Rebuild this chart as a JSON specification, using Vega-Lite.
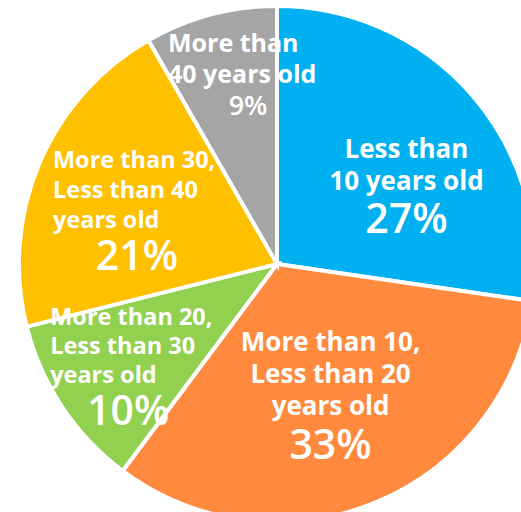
{
  "$schema": "https://vega.github.io/schema/vega-lite/v6.json",
  "autosize": "none",
  "width": 488,
  "height": 496,
  "padding": {"left": 33, "top": 16, "right": 0, "bottom": 0},
  "background": "white",
  "view": {"stroke": null},
  "data": {
    "values": [
      {"group": "Less than 10 years old", "share": 27.3, "order": 1, "label": "Less than\n10 years old", "pct": "27%"},
      {"group": "More than 10, Less than 20 years old", "share": 32.9, "order": 2, "label": "More than 10,\nLess than 20\nyears old", "pct": "33%"},
      {"group": "More than 20, Less than 30 years old", "share": 10.9, "order": 3, "label": "More than 20,\nLess than 30\nyears old", "pct": "10%"},
      {"group": "More than 30, Less than 40 years old", "share": 20.6, "order": 4, "label": "More than 30,\nLess than 40\nyears old", "pct": "21%"},
      {"group": "More than 40 years old", "share": 8.3, "order": 5, "label": "More than\n40 years old", "pct": "9%"}
    ]
  },
  "layer": [
    {
      "mark": {"type": "arc", "outerRadius": 258, "stroke": "white", "strokeWidth": 4},
      "encoding": {
        "theta": {"field": "share", "type": "quantitative", "stack": true, "scale": {"domain": [0, 100]}},
        "order": {"field": "order", "type": "quantitative", "sort": "ascending"},
        "color": {
          "field": "group", "type": "nominal", "legend": null,
          "scale": {
            "domain": ["Less than 10 years old", "More than 10, Less than 20 years old", "More than 20, Less than 30 years old", "More than 30, Less than 40 years old", "More than 40 years old"],
            "range": ["#00B0F0", "#FF8A3D", "#92D050", "#FFC000", "#A5A5A5"]
          }
        }
      }
    },
    {
      "transform": [
        {"stack": "share", "groupby": [], "sort": [{"field": "order", "order": "ascending"}], "as": ["s0", "s1"]},
        {"calculate": "(datum.s0 + datum.s1) / 2", "as": "mid"},
        {"filter": "datum.order == 1"}
      ],
      "mark": {"type": "text", "radius": 150, "dx": 16, "dy": -16, "align": "center", "baseline": "middle", "lineBreak": "\n", "lineHeight": 32, "fontSize": 26, "fontWeight": "bold", "font": "Open Sans", "color": "white"},
      "encoding": {"theta": {"field": "mid", "type": "quantitative", "stack": null}, "text": {"field": "label"}}
    },
    {
      "transform": [
        {"stack": "share", "groupby": [], "sort": [{"field": "order", "order": "ascending"}], "as": ["s0", "s1"]},
        {"calculate": "(datum.s0 + datum.s1) / 2", "as": "mid"},
        {"filter": "datum.order == 1"}
      ],
      "mark": {"type": "text", "radius": 150, "dx": 16, "dy": 55, "align": "center", "baseline": "middle", "fontSize": 41, "fontWeight": 600, "font": "Open Sans", "color": "white"},
      "encoding": {"theta": {"field": "mid", "type": "quantitative", "stack": null}, "text": {"field": "pct"}}
    },
    {
      "transform": [
        {"stack": "share", "groupby": [], "sort": [{"field": "order", "order": "ascending"}], "as": ["s0", "s1"]},
        {"calculate": "(datum.s0 + datum.s1) / 2", "as": "mid"},
        {"filter": "datum.order == 2"}
      ],
      "mark": {"type": "text", "radius": 140, "dx": 0, "dy": -50, "align": "center", "baseline": "middle", "lineBreak": "\n", "lineHeight": 32, "fontSize": 26, "fontWeight": "bold", "font": "Open Sans", "color": "white"},
      "encoding": {"theta": {"field": "mid", "type": "quantitative", "stack": null}, "text": {"field": "label"}}
    },
    {
      "transform": [
        {"stack": "share", "groupby": [], "sort": [{"field": "order", "order": "ascending"}], "as": ["s0", "s1"]},
        {"calculate": "(datum.s0 + datum.s1) / 2", "as": "mid"},
        {"filter": "datum.order == 2"}
      ],
      "mark": {"type": "text", "radius": 140, "dx": 0, "dy": 54, "align": "center", "baseline": "middle", "fontSize": 41, "fontWeight": 600, "font": "Open Sans", "color": "white"},
      "encoding": {"theta": {"field": "mid", "type": "quantitative", "stack": null}, "text": {"field": "pct"}}
    },
    {
      "transform": [
        {"stack": "share", "groupby": [], "sort": [{"field": "order", "order": "ascending"}], "as": ["s0", "s1"]},
        {"calculate": "(datum.s0 + datum.s1) / 2", "as": "mid"},
        {"filter": "datum.order == 3"}
      ],
      "mark": {"type": "text", "radius": 180, "dx": -77, "dy": -46, "align": "left", "baseline": "middle", "lineBreak": "\n", "lineHeight": 29, "fontSize": 23.5, "fontWeight": "bold", "font": "Open Sans", "color": "white"},
      "encoding": {"theta": {"field": "mid", "type": "quantitative", "stack": null}, "text": {"field": "label"}}
    },
    {
      "transform": [
        {"stack": "share", "groupby": [], "sort": [{"field": "order", "order": "ascending"}], "as": ["s0", "s1"]},
        {"calculate": "(datum.s0 + datum.s1) / 2", "as": "mid"},
        {"filter": "datum.order == 3"}
      ],
      "mark": {"type": "text", "radius": 180, "dx": 1, "dy": 49, "align": "center", "baseline": "middle", "fontSize": 41, "fontWeight": 600, "font": "Open Sans", "color": "white"},
      "encoding": {"theta": {"field": "mid", "type": "quantitative", "stack": null}, "text": {"field": "pct"}}
    },
    {
      "transform": [
        {"stack": "share", "groupby": [], "sort": [{"field": "order", "order": "ascending"}], "as": ["s0", "s1"]},
        {"calculate": "(datum.s0 + datum.s1) / 2", "as": "mid"},
        {"filter": "datum.order == 4"}
      ],
      "mark": {"type": "text", "radius": 150, "dx": -86, "dy": -44, "align": "left", "baseline": "middle", "lineBreak": "\n", "lineHeight": 30, "fontSize": 23.5, "fontWeight": "bold", "font": "Open Sans", "color": "white"},
      "encoding": {"theta": {"field": "mid", "type": "quantitative", "stack": null}, "text": {"field": "label"}}
    },
    {
      "transform": [
        {"stack": "share", "groupby": [], "sort": [{"field": "order", "order": "ascending"}], "as": ["s0", "s1"]},
        {"calculate": "(datum.s0 + datum.s1) / 2", "as": "mid"},
        {"filter": "datum.order == 4"}
      ],
      "mark": {"type": "text", "radius": 150, "dx": -2, "dy": 53, "align": "center", "baseline": "middle", "fontSize": 41, "fontWeight": 600, "font": "Open Sans", "color": "white"},
      "encoding": {"theta": {"field": "mid", "type": "quantitative", "stack": null}, "text": {"field": "pct"}}
    },
    {
      "transform": [
        {"stack": "share", "groupby": [], "sort": [{"field": "order", "order": "ascending"}], "as": ["s0", "s1"]},
        {"calculate": "(datum.s0 + datum.s1) / 2", "as": "mid"},
        {"filter": "datum.order == 5"}
      ],
      "mark": {"type": "text", "radius": 190, "dx": -60, "dy": -36, "align": "left", "baseline": "middle", "lineBreak": "\n", "lineHeight": 31, "fontSize": 25, "fontWeight": "bold", "font": "Open Sans", "color": "white"},
      "encoding": {"theta": {"field": "mid", "type": "quantitative", "stack": null}, "text": {"field": "label"}}
    },
    {
      "transform": [
        {"stack": "share", "groupby": [], "sort": [{"field": "order", "order": "ascending"}], "as": ["s0", "s1"]},
        {"calculate": "(datum.s0 + datum.s1) / 2", "as": "mid"},
        {"filter": "datum.order == 5"}
      ],
      "mark": {"type": "text", "radius": 190, "dx": 20, "dy": 27, "align": "center", "baseline": "middle", "fontSize": 27, "fontWeight": 600, "font": "Open Sans", "color": "white"},
      "encoding": {"theta": {"field": "mid", "type": "quantitative", "stack": null}, "text": {"field": "pct"}}
    }
  ]
}
